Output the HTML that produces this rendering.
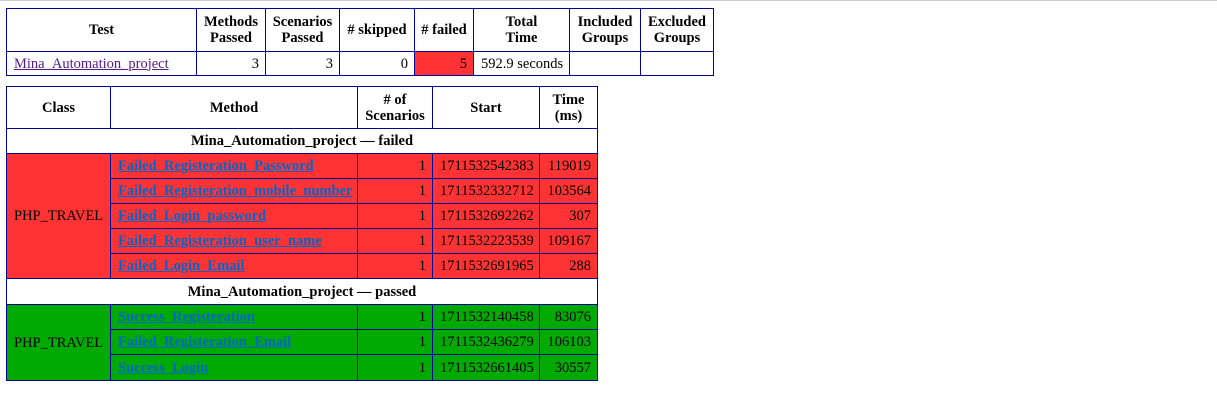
<!DOCTYPE html>
<html><head><meta charset="utf-8"><style>
body{margin:0;width:1217px;height:402px;background:#fff;font-family:"Liberation Serif",serif;font-size:14.5px;color:#000;border-top:1px solid #ccc;position:relative;overflow:hidden}
table{border-collapse:collapse;table-layout:fixed;position:absolute;left:6px}
td,th{border:1px solid #009;padding:0 6px 0 7px;white-space:nowrap;overflow:hidden;line-height:16px}
th{font-weight:bold;text-align:center;padding:0 3px}
.num{text-align:right}
.f td{background:#f33}
.p td{background:#0a0}
a{color:#06c;font-weight:bold;text-decoration:underline}
a.t{color:#551a8b;font-weight:normal}
.g th{height:24px}
.g2 th{height:25px}
.r td{height:24px}
</style></head><body>
<table style="top:7px;width:707px">
<colgroup><col style="width:190px"><col style="width:69px"><col style="width:74px"><col style="width:75px"><col style="width:59px"><col style="width:96px"><col style="width:71px"><col style="width:73px"></colgroup>
<tr style="height:43px"><th>Test</th><th>Methods<br>Passed</th><th>Scenarios<br>Passed</th><th># skipped</th><th># failed</th><th>Total<br>Time</th><th>Included<br>Groups</th><th>Excluded<br>Groups</th></tr>
<tr style="height:24px"><td><a class="t">Mina_Automation_project</a></td><td class="num">3</td><td class="num">3</td><td class="num">0</td><td class="num" style="background:#f33">5</td><td>592.9 seconds</td><td></td><td></td></tr>
</table>
<table style="top:85px;width:592px">
<colgroup><col style="width:104px"><col style="width:247px"><col style="width:75px"><col style="width:107px"><col style="width:58px"></colgroup>
<tr style="height:42px"><th>Class</th><th>Method</th><th># of<br>Scenarios</th><th>Start</th><th>Time<br>(ms)</th></tr>
<tr class="g"><th colspan="5">Mina_Automation_project &mdash; failed</th></tr>
<tr class="f r"><td rowspan="5">PHP_TRAVEL</td><td><a>Failed_Registeration_Password</a></td><td class="num">1</td><td>1711532542383</td><td class="num">119019</td></tr>
<tr class="f r"><td><a>Failed_Registeration_mobile_number</a></td><td class="num">1</td><td>1711532332712</td><td class="num">103564</td></tr>
<tr class="f r"><td><a>Failed_Login_password</a></td><td class="num">1</td><td>1711532692262</td><td class="num">307</td></tr>
<tr class="f r"><td><a>Failed_Registeration_user_name</a></td><td class="num">1</td><td>1711532223539</td><td class="num">109167</td></tr>
<tr class="f r"><td><a>Failed_Login_Email</a></td><td class="num">1</td><td>1711532691965</td><td class="num">288</td></tr>
<tr class="g2"><th colspan="5">Mina_Automation_project &mdash; passed</th></tr>
<tr class="p r"><td rowspan="3">PHP_TRAVEL</td><td><a>Success_Registeration</a></td><td class="num">1</td><td>1711532140458</td><td class="num">83076</td></tr>
<tr class="p r"><td><a>Failed_Registeration_Email</a></td><td class="num">1</td><td>1711532436279</td><td class="num">106103</td></tr>
<tr class="p r"><td style="height:25px"><a>Success_Login</a></td><td class="num">1</td><td>1711532661405</td><td class="num">30557</td></tr>
</table>
</body></html>
